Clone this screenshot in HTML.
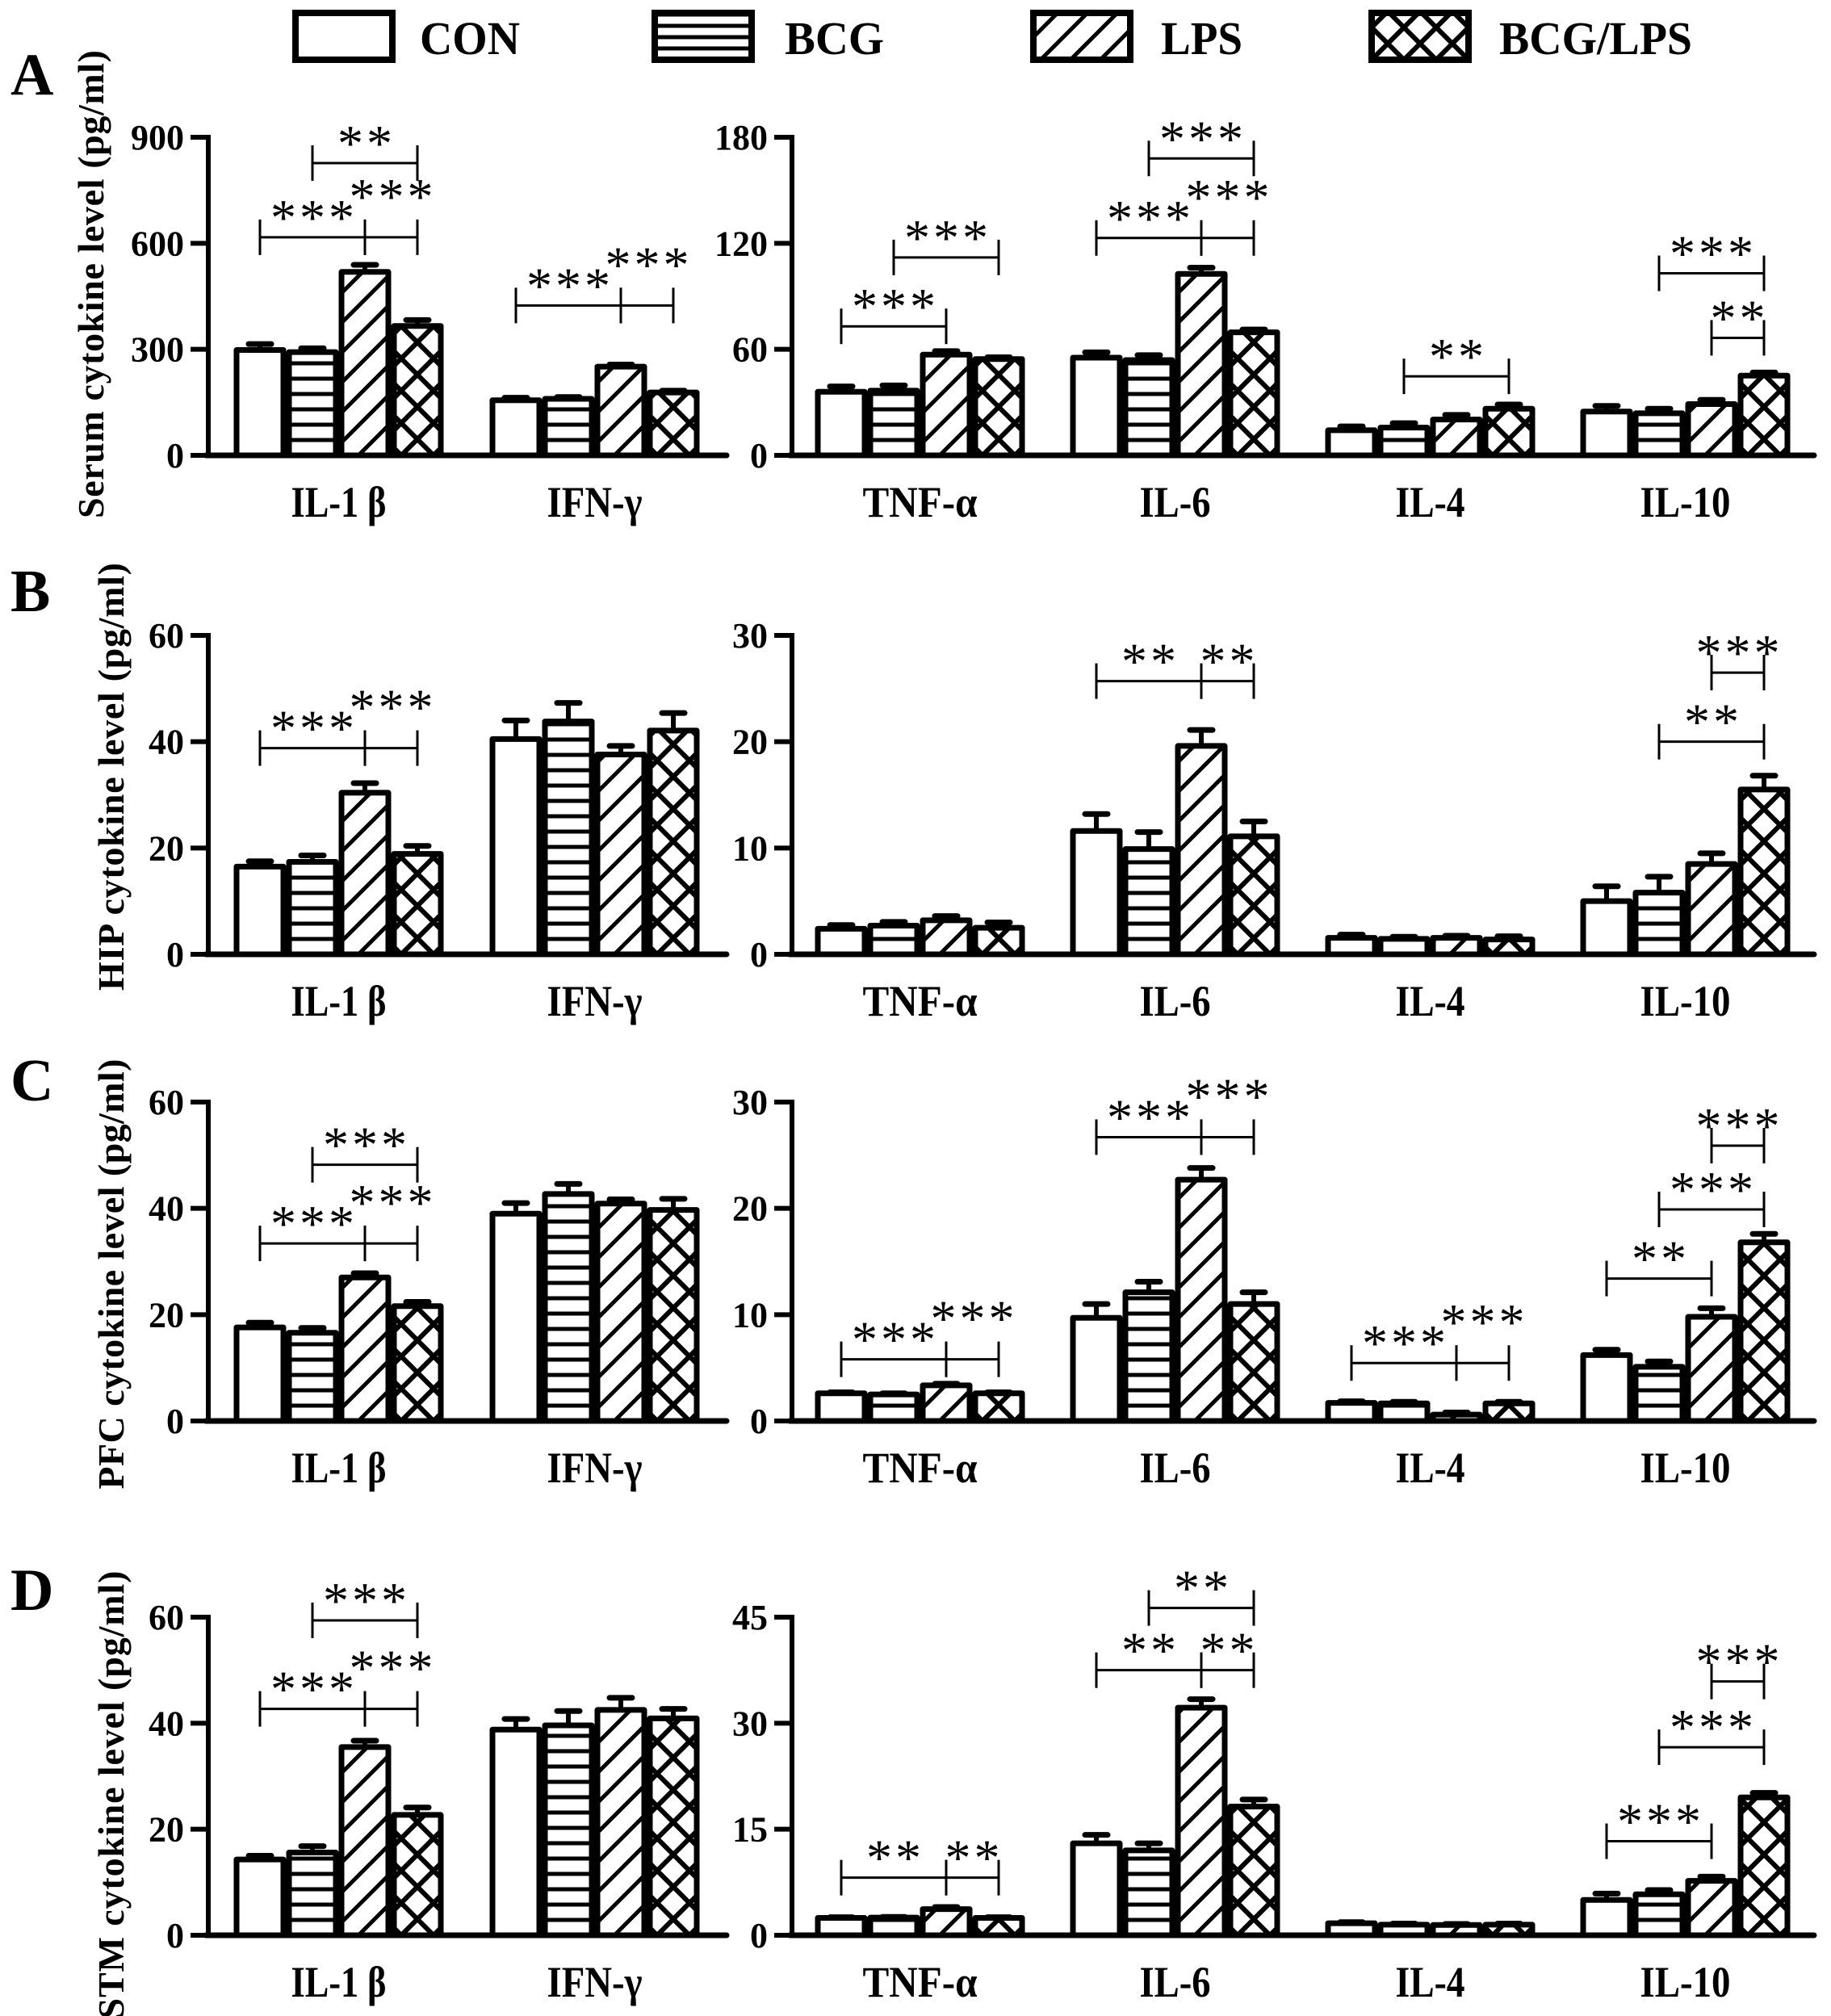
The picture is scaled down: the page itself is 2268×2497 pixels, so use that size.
<!DOCTYPE html>
<html><head><meta charset="utf-8"><style>
html,body{margin:0;padding:0;background:#fff;}
svg{display:block;}
text{font-family:"Liberation Serif",serif;fill:#000;}
</style></head><body>
<svg id="fig" width="2268" height="2497" viewBox="0 0 2268 2497" xmlns="http://www.w3.org/2000/svg"></svg>
<script>
// ---- data ----
const groups = ["CON","BCG","LPS","BCG/LPS"];
const leftCats = ["IL-1 β","IFN-γ"];
const rightCats = ["TNF-α","IL-6","IL-4","IL-10"];
const aLeftMeans = [[298,292,519,366],[156,160,251,178]];
const aLeftErrs  = [[17,11,20,17],[7,5,6,5]];
const aRightMeans = [[36,36.6,57,54.5],[55.3,53.9,102.7,69.6],[14.2,15.7,20.3,26.4],[24.8,23.8,29,45.1]];
const aRightErrs  = [[3,3,2,1],[3,2.8,3.5,1.6],[2.2,2.5,2.6,2.4],[3.2,2.6,2.4,1.8]];
const bLeftMeans = [[16.5,17.4,30.4,18.9],[40.5,43.8,37.6,42.1]];
const bLeftErrs  = [[1,1.2,1.8,1.5],[3.5,3.5,1.6,3.3]];
const bRightMeans = [[2.4,2.7,3.2,2.5],[11.6,9.9,19.6,11.1],[1.55,1.45,1.55,1.4],[5,5.8,8.5,15.5]];
const bRightErrs  = [[0.35,0.35,0.4,0.5],[1.6,1.6,1.5,1.4],[0.3,0.2,0.2,0.3],[1.4,1.5,1,1.3]];
const cLeftMeans = [[17.6,16.6,27,21.6],[39,42.7,40.9,39.7]];
const cLeftErrs  = [[0.9,0.9,0.8,0.8],[2,1.9,0.8,2.1]];
const cRightMeans = [[2.6,2.5,3.35,2.6],[9.7,12.1,22.7,11],[1.7,1.65,0.6,1.65],[6.2,5.1,9.8,16.8]];
const cRightErrs  = [[0.1,0.1,0.15,0.1],[1.3,1,1.1,1.1],[0.15,0.15,0.2,0.15],[0.5,0.5,0.8,0.8]];
const dLeftMeans = [[14.3,15.6,35.5,22.7],[38.8,39.6,42.5,40.9]];
const dLeftErrs  = [[0.7,1.2,1.2,1.4],[2,2.7,2.3,1.8]];
const dRightMeans = [[2.45,2.5,3.7,2.45],[13,12,32.2,18.2],[1.7,1.5,1.45,1.5],[5,5.8,7.7,19.5]];
const dRightErrs  = [[0.1,0.1,0.3,0.1],[1.2,1,1.2,1],[0.15,0.15,0.15,0.15],[0.9,0.6,0.6,0.65]];
const aLeftTicks=[0,300,600,900], aRightTicks=[0,60,120,180];
const bLeftTicks=[0,20,40,60], bRightTicks=[0,10,20,30];
const cLeftTicks=[0,20,40,60], cRightTicks=[0,10,20,30];
const dLeftTicks=[0,20,40,60], dRightTicks=[0,15,30,45];
// significance brackets: [category, fromBar, toBar, yValue, label, raised]
const aLeftSig=[[0,1,3,827,"**",0],[0,0,2,617,"***",0],[0,2,3,617,"***",1],[1,0,2,424,"***",0],[1,2,3,424,"***",1]];
const aRightSig=[[0,1,3,112,"***",0],[0,0,2,73,"***",0],[1,1,3,168,"***",0],[1,0,2,123,"***",0],[1,2,3,123,"***",1],[2,1,3,44.7,"**",0],[3,1,3,103,"***",0],[3,2,3,66.5,"**",0]];
const bLeftSig=[[0,0,2,38.8,"***",0],[0,2,3,38.8,"***",1]];
const bRightSig=[[1,0,2,25.7,"**",0],[1,2,3,25.7,"**",0],[3,2,3,26.5,"***",0],[3,1,3,20,"**",0]];
const cLeftSig=[[0,1,3,48.2,"***",0],[0,0,2,33.4,"***",0],[0,2,3,33.4,"***",1]];
const cRightSig=[[0,0,2,5.8,"***",0],[0,2,3,5.8,"***",1],[1,0,2,26.7,"***",0],[1,2,3,26.7,"***",1],[2,0,2,5.45,"***",0],[2,2,3,5.45,"***",1],[3,2,3,25.9,"***",0],[3,1,3,19.9,"***",0],[3,0,2,13.4,"**",0]];
const dLeftSig=[[0,1,3,59.4,"***",0],[0,0,2,42.7,"***",0],[0,2,3,42.7,"***",1]];
const dRightSig=[[0,0,2,8.15,"**",0],[0,2,3,8.15,"**",0],[1,1,3,46.3,"**",0],[1,0,2,37.5,"**",0],[1,2,3,37.5,"**",0],[3,2,3,35.9,"***",0],[3,1,3,26.6,"***",0],[3,0,2,13.3,"***",0]];

// ---- layout ----
const NS="http://www.w3.org/2000/svg";
const svg=document.getElementById("fig");
const defs=document.createElementNS(NS,"defs");svg.appendChild(defs);
function mk(tag,attrs,parent){const e=document.createElementNS(NS,tag);for(const k in attrs)e.setAttribute(k,attrs[k]);(parent||svg).appendChild(e);return e;}
let clipId=0;
function hatch(kind,x,y,w,h,parent,sp){
  if(kind===0)return;
  const bot=y+h;
  if(kind===3){
    const id="p"+(clipId++);
    const T=40;
    const pat=mk("pattern",{id:id,patternUnits:"userSpaceOnUse",width:T,height:T,patternTransform:"translate("+(x+w/2-T/2)+","+bot+")"},defs);
    mk("line",{x1:-3,y1:T+3,x2:T+3,y2:-3,stroke:"#000","stroke-width":6},pat);
    mk("line",{x1:-3,y1:-3,x2:T+3,y2:T+3,stroke:"#000","stroke-width":6},pat);
    mk("rect",{x:x,y:y,width:w,height:h,fill:"url(#"+id+")"},parent);
    return;
  }
  const id="c"+(clipId++);
  const cp=mk("clipPath",{id:id},defs);mk("rect",{x:x,y:y,width:w,height:h},cp);
  const g=mk("g",{"clip-path":"url(#"+id+")",stroke:"#000","stroke-width":5},parent);
  if(kind===1){const s=sp||19;for(let yy=bot-s;yy>y;yy-=s)mk("line",{x1:x,y1:yy,x2:x+w,y2:yy},g);}
  if(kind===2){const s=37;for(let b=bot+w;b>y-s;b-=s)mk("line",{x1:x,y1:b,x2:x+w,y2:b-w},g);}
}
const BW=58,PITCH=65;
function chart(p){
  const g=mk("g",{});
  
  
  const top=p.top,zero=p.zero,max=p.ticks[p.ticks.length-1];
  const yS=v=>zero-(v/max)*(zero-top);
  const barX=(c,i)=>p.starts[c]+i*PITCH;
  mk("line",{x1:p.ax,y1:top-3,x2:p.ax,y2:zero,stroke:"#000","stroke-width":6},g);
  p.ticks.forEach(t=>{
    const y=yS(t);
    mk("line",{x1:p.ax-22,y1:y,x2:p.ax,y2:y,stroke:"#000","stroke-width":6},g);
    const tx=mk("text",{x:p.ax-30,y:y+15,"font-size":44,"font-weight":"bold","text-anchor":"end"},g);
    tx.textContent=t;
    
    
  });
  p.means.forEach((arr,c)=>{
    arr.forEach((v,i)=>{
      const x=barX(c,i),yt=yS(v),ye=yS(v+p.errs[c][i]);
      mk("line",{x1:x+BW/2,y1:yt,x2:x+BW/2,y2:ye,stroke:"#000","stroke-width":6},g);
      mk("line",{x1:x+BW/2-14,y1:ye,x2:x+BW/2+14,y2:ye,stroke:"#000","stroke-width":7,"stroke-linecap":"round"},g);
      const r=mk("rect",{x:x,y:yt,width:BW,height:zero-yt,fill:"#fff"},g);
      
      
      hatch(i,x,yt,BW,zero-yt,g);
      mk("rect",{x:x,y:yt,width:BW,height:zero-yt,fill:"none",stroke:"#000","stroke-width":7,"stroke-linejoin":"round"},g);
    });
    const lab=mk("text",{x:p.starts[c]+(3*PITCH+BW)/2,y:zero+76,"font-size":54,"font-weight":"bold","text-anchor":"middle",textLength:p.catW[c],lengthAdjust:"spacingAndGlyphs"},g);
    lab.textContent=p.cats[c];
    
    
  });
  mk("line",{x1:p.ax-3,y1:zero,x2:p.xend,y2:zero,stroke:"#000","stroke-width":7,"stroke-linecap":"round"},g);
  p.sig.forEach(s=>{
    const [c,a,b,v,lbl,raised]=s;
    const x1=barX(c,a)+BW/2,x2=barX(c,b)+BW/2,y=yS(v);
    const bg=mk("g",{stroke:"#000","stroke-width":3},g);
    
    
    mk("line",{x1:x1,y1:y,x2:x2,y2:y},bg);
    mk("line",{x1:x1,y1:y-22,x2:x1,y2:y+22},bg);
    mk("line",{x1:x2,y1:y-22,x2:x2,y2:y+22},bg);
    const t=mk("text",{x:(x1+x2)/2+2,y:y-(raised?60:34)+31,"font-size":64,"text-anchor":"middle","letter-spacing":4},g);
    t.textContent=lbl;
    
    
  });
}
const panels=[
 {key:"A",top:170,zero:564,lm:aLeftMeans,le:aLeftErrs,rm:aRightMeans,re:aRightErrs,lt:aLeftTicks,rt:aRightTicks,ls:aLeftSig,rs:aRightSig,title:"Serum cytokine level (pg/ml)",tx:112,ty:352,tl:580,ly:117},
 {key:"B",top:787,zero:1182,lm:bLeftMeans,le:bLeftErrs,rm:bRightMeans,re:bRightErrs,lt:bLeftTicks,rt:bRightTicks,ls:bLeftSig,rs:bRightSig,title:"HIP cytokine level (pg/ml)",tx:137,ty:962,tl:530,ly:757},
 {key:"C",top:1365,zero:1760,lm:cLeftMeans,le:cLeftErrs,rm:cRightMeans,re:cRightErrs,lt:cLeftTicks,rt:cRightTicks,ls:cLeftSig,rs:cRightSig,title:"PFC cytokine level (pg/ml)",tx:137,ty:1578,tl:533,ly:1363},
 {key:"D",top:2003,zero:2397,lm:dLeftMeans,le:dLeftErrs,rm:dRightMeans,re:dRightErrs,lt:dLeftTicks,rt:dRightTicks,ls:dLeftSig,rs:dRightSig,title:"STM cytokine level (pg/ml)",tx:137,ty:2223,tl:555,ly:1994}
];
panels.forEach(P=>{
  const k=P.key.toLowerCase();
  chart({name:"panel-"+k+"-left-chart",top:P.top,zero:P.zero,ticks:P.lt,means:P.lm,errs:P.le,sig:P.ls,ax:258,xend:900,starts:[293,610],cats:leftCats,catW:[118,118]});
  chart({name:"panel-"+k+"-right-chart",top:P.top,zero:P.zero,ticks:P.rt,means:P.rm,errs:P.re,sig:P.rs,ax:981,xend:2247,starts:[1013,1329,1645,1961],cats:rightCats,catW:[142,88,86,112]});
  const t=mk("text",{x:0,y:0,"font-size":46,"font-weight":"bold","text-anchor":"middle",textLength:P.tl,lengthAdjust:"spacing",transform:"translate("+(P.tx+16)+","+P.ty+") rotate(-90)"});
  t.textContent=P.title;
  
  
  const L=mk("text",{x:13,y:P.ly,"font-size":74,"font-weight":"bold"});
  L.textContent=P.key;
  
  
});
const legBoxX=[366,811,1280,1699], legTextX=[520,972,1438,1857], legTextW=[124,123,101,239];
groups.forEach((gname,i)=>{
  const lg=mk("g",{});
  
  
  mk("rect",{x:legBoxX[i],y:16,width:120,height:58,fill:"#fff"},lg);
  hatch(i,legBoxX[i],16,120,58,lg,14);
  mk("rect",{x:legBoxX[i],y:16,width:120,height:58,fill:"none",stroke:"#000","stroke-width":8},lg);
  const t=mk("text",{x:legTextX[i],y:67,"font-size":58,"font-weight":"bold",textLength:legTextW[i],lengthAdjust:"spacingAndGlyphs"},lg);
  t.textContent=gname;
});
</script>
</body></html>
